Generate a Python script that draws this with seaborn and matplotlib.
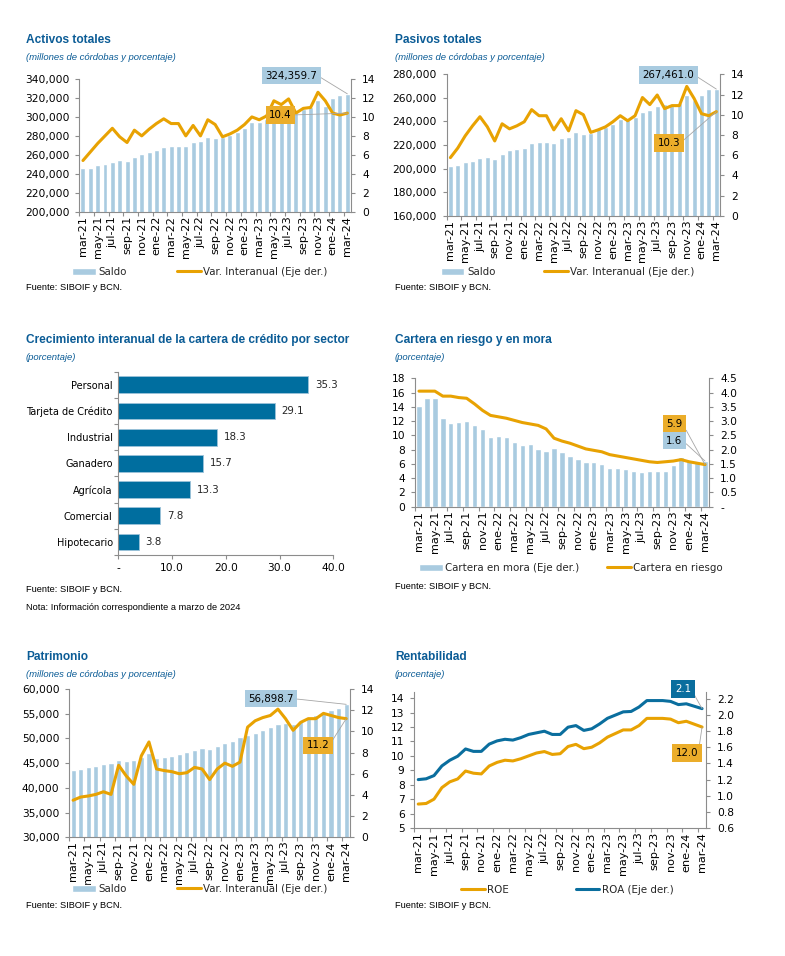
import numpy as np
import matplotlib
matplotlib.use("Agg")
import matplotlib.pyplot as plt
from matplotlib.patches import Patch
from matplotlib.lines import Line2D
from matplotlib.ticker import FuncFormatter, MultipleLocator
import seaborn as sns

# data
meses = ["mar-21", "abr-21", "may-21", "jun-21", "jul-21", "ago-21", "sep-21", "oct-21",
         "nov-21", "dic-21", "ene-22", "feb-22", "mar-22", "abr-22", "may-22", "jun-22",
         "jul-22", "ago-22", "sep-22", "oct-22", "nov-22", "dic-22", "ene-23", "feb-23",
         "mar-23", "abr-23", "may-23", "jun-23", "jul-23", "ago-23", "sep-23", "oct-23",
         "nov-23", "dic-23", "ene-24", "feb-24", "mar-24"]

activos_saldo = [246200, 246200, 249000, 250100, 252900, 255000, 253900, 257900, 261100, 263200,
                 265400, 267800, 268900, 268900, 268900, 273200, 274200, 278800, 277800, 278500,
                 280600, 284500, 288500, 295000, 295000, 297500, 299500, 301500, 302000, 304500,
                 308500, 310000, 317400, 311500, 319500, 323200, 324359.7]
activos_var = [5.4, 6.3, 7.2, 8.0, 8.8, 7.9, 7.3, 8.6, 8.0, 8.7, 9.3, 9.8, 9.3, 9.3, 8.0, 9.1,
               8.0, 9.7, 9.2, 7.9, 8.2, 8.6, 9.2, 10.0, 9.7, 10.1, 11.7, 11.3, 11.9, 10.4, 10.9,
               11.0, 12.6, 11.7, 10.4, 10.2, 10.4]

pasivos_saldo = [202000, 202700, 205300, 206000, 209000, 209800, 208000, 212400, 215500, 216300,
                 217700, 221700, 222500, 222500, 221700, 225700, 226500, 231300, 229600, 230500,
                 233300, 235600, 238000, 242000, 241200, 244000, 247700, 249700, 253400, 254800,
                 254800, 256000, 262700, 258000, 262700, 267400, 267461.0]
pasivos_var = [5.75, 6.7, 7.9, 8.9, 9.8, 8.8, 7.4, 9.1, 8.6, 8.9, 9.3, 10.5, 9.9, 9.9, 8.5, 9.6,
               8.4, 10.4, 10.0, 8.25, 8.5, 8.8, 9.3, 9.9, 9.4, 9.9, 11.7, 11.0, 11.95, 10.6, 10.9,
               10.9, 12.8, 11.6, 10.1, 9.9, 10.3]

sectores = ["Personal", "Tarjeta de Crédito", "Industrial", "Ganadero", "Agrícola",
            "Comercial", "Hipotecario"]
crecimiento = [35.3, 29.1, 18.3, 15.7, 13.3, 7.8, 3.8]

cartera_riesgo = [16.2, 16.2, 16.2, 15.5, 15.5, 15.3, 15.2, 14.4, 13.5, 12.8, 12.6, 12.4, 12.1,
                  11.8, 11.6, 11.4, 10.9, 9.6, 9.2, 8.9, 8.5, 8.1, 7.9, 7.7, 7.3, 7.1, 6.9, 6.7,
                  6.5, 6.3, 6.2, 6.3, 6.4, 6.6, 6.3, 6.1, 5.9]
cartera_mora = [3.53, 3.82, 3.82, 3.1, 2.93, 2.96, 3.02, 2.86, 2.73, 2.43, 2.47, 2.43, 2.28, 2.15,
                2.19, 2.01, 1.94, 2.04, 1.91, 1.79, 1.68, 1.55, 1.55, 1.48, 1.35, 1.35, 1.32,
                1.26, 1.23, 1.26, 1.26, 1.26, 1.45, 1.75, 1.59, 1.57, 1.6]

patrimonio_saldo = [43600, 43800, 44200, 44500, 44900, 45100, 45700, 45500, 45700, 46300, 47000,
                    46100, 46300, 46400, 46800, 47200, 47700, 48000, 47950, 48400, 49000, 49500,
                    50300, 50700, 51200, 51800, 52400, 52900, 53100, 52900, 53600, 54200, 54800,
                    55200, 55800, 56200, 56898.7]
patrimonio_var = [3.5, 3.8, 3.9, 4.05, 4.3, 4.05, 6.8, 5.8, 5.0, 7.7, 9.0, 6.45, 6.3, 6.2, 6.0,
                  6.1, 6.6, 6.45, 5.45, 6.45, 7.0, 6.7, 7.1, 10.4, 11.0, 11.3, 11.5, 12.1, 11.2,
                  10.1, 10.85, 11.2, 11.2, 11.7, 11.5, 11.3, 11.2]

roe = [6.66, 6.7, 7.0, 7.8, 8.2, 8.4, 8.95, 8.8, 8.75, 9.3, 9.55, 9.7, 9.65, 9.8, 10.0, 10.2,
       10.3, 10.1, 10.15, 10.65, 10.8, 10.5, 10.6, 10.9, 11.3, 11.55, 11.8, 11.8, 12.1, 12.6,
       12.6, 12.6, 12.55, 12.3, 12.4, 12.2, 12.0]
roa = [1.2, 1.21, 1.25, 1.37, 1.44, 1.49, 1.58, 1.55, 1.55, 1.64, 1.68, 1.70, 1.69, 1.72, 1.76,
       1.78, 1.80, 1.76, 1.76, 1.85, 1.87, 1.81, 1.83, 1.89, 1.96, 2.0, 2.04, 2.045, 2.1, 2.18,
       2.18, 2.18, 2.17, 2.13, 2.14, 2.11, 2.08]

# colours and fonts
BLUE_TXT = "#0B5C96"
LIGHT = "#A9CBE0"
ORANGE = "#E8A202"
BOX_OR = "#EBAD2A"
DARK = "#0A6E9E"
SPINE = "#8C8C8C"
NUM = "DejaVu Sans"
TXT = "Liberation Sans"
FS = 7.4
FS_Y = 7.7
FS_MES = 8.1

sns.set_theme(style="white")
plt.rcParams["font.family"] = [NUM]
plt.rcParams["axes.edgecolor"] = SPINE
plt.rcParams["axes.linewidth"] = 0.8
plt.rcParams["xtick.color"] = SPINE
plt.rcParams["ytick.color"] = SPINE
plt.rcParams["xtick.labelcolor"] = "black"
plt.rcParams["ytick.labelcolor"] = "black"

W, H = 785, 956
fig = plt.figure(figsize=(W / 100, H / 100), dpi=100)
fig.patch.set_facecolor("white")
x_pos = np.arange(len(meses))


# pixel helpers (origin top-left, like the reference)
def fx(x):
    return x / W


def fy(y):
    return 1 - y / H


def add_ax(x0, y0, x1, y1):
    return fig.add_axes([fx(x0), fy(y1), (x1 - x0) / W, (y1 - y0) / H])


def titles(x, y, title, subtitle):
    fig.text(fx(x), fy(y), title, fontsize=8.6, fontweight="bold", color=BLUE_TXT,
             family=TXT, va="center")
    fig.text(fx(x), fy(y + 17.5), subtitle, fontsize=6.8, style="italic", color=BLUE_TXT,
             family=TXT, va="center")


def note(x, y, text):
    fig.text(fx(x), fy(y), text, fontsize=6.7, family=TXT, color="black", va="center")


def legend_item(handle, label, x, y):
    fig.legend(handles=[handle], labels=[label], loc="center left",
               bbox_to_anchor=(fx(x), fy(y)), frameon=False, borderpad=0, borderaxespad=0,
               handlelength=2.3, handletextpad=0.25, prop=dict(family=NUM, size=FS))


def callout(ax, text, xy, coords, center, fc, tc="black"):
    ax.annotate(text, xy=xy, xycoords=coords, xytext=(fx(center[0]), fy(center[1])),
                textcoords="figure fraction", ha="center", va="center", fontsize=FS,
                family=NUM, color=tc, zorder=10, annotation_clip=False,
                bbox=dict(boxstyle="square,pad=0.35", fc=fc, ec="none"),
                arrowprops=dict(arrowstyle="-", color="#A6A6A6", lw=0.6,
                                shrinkA=0, shrinkB=0, relpos=(1, 0.5)))


def month_axis(ax):
    ax.set_xlim(-0.5, len(meses) - 0.5)
    ax.set_xticks(x_pos[::2])
    ax.set_xticklabels(meses[::2], rotation=90, fontsize=FS_MES, family=NUM)
    ax.set_xticks(np.arange(-0.5, len(meses), 2), minor=True)
    ax.tick_params(axis="x", which="major", length=0, pad=3)
    ax.tick_params(axis="x", which="minor", length=3, width=0.8, color=SPINE, bottom=True)
    ax.set_xlabel("")


def left_axis(ax, lo, hi, step, fmt):
    ax.set_ylim(lo, hi)
    ax.yaxis.set_major_locator(MultipleLocator(step))
    ax.yaxis.set_major_formatter(FuncFormatter(fmt))
    ax.tick_params(axis="y", which="major", left=True, length=3, width=0.8, pad=4,
                   labelsize=FS_Y)
    ax.set_ylabel("")
    for s in ["top", "right"]:
        ax.spines[s].set_visible(False)


def right_axis(ax2, lo, hi, step, fmt):
    ax2.set_ylim(lo, hi)
    ax2.yaxis.set_major_locator(MultipleLocator(step))
    ax2.yaxis.set_major_formatter(FuncFormatter(fmt))
    ax2.tick_params(axis="y", which="major", right=True, length=3, width=0.8, pad=5,
                    labelsize=FS_Y)
    ax2.set_ylabel("")
    for s in ["top", "left", "bottom"]:
        ax2.spines[s].set_visible(False)
    ax2.grid(False)


thousands = lambda v, p: f"{v:,.0f}"
integer = lambda v, p: f"{v:.0f}"
one_dec = lambda v, p: "-" if abs(v) < 1e-9 else f"{v:.1f}"


def saldo_panel(rect, saldo, var, lo, hi, step, saldo_box, var_box):
    ax = add_ax(*rect)
    sns.barplot(x=meses, y=saldo, color=LIGHT, width=0.68, saturation=1, ax=ax)
    ax2 = ax.twinx()
    sns.lineplot(x=x_pos, y=var, color=ORANGE, lw=2.2, ax=ax2)
    left_axis(ax, lo, hi, step, thousands)
    right_axis(ax2, 0, 14, 2, integer)
    month_axis(ax)
    ax2.set_xlim(-0.5, len(meses) - 0.5)
    callout(ax2, f"{saldo[-1]:,.1f}", (x_pos[-1], saldo[-1]), ax.transData, saldo_box, LIGHT)
    callout(ax2, f"{var[-1]:.1f}", (x_pos[-1], var[-1]), "data", var_box, BOX_OR)
    return ax, ax2


# --- Activos totales
titles(26, 40, "Activos totales", "(millones de córdobas y porcentaje)")
saldo_panel((79.3, 79, 351, 211.7), activos_saldo, activos_var, 200000, 340000, 20000,
            (291.5, 75.5), (280.5, 115))
legend_item(Patch(fc=LIGHT), "Saldo", 72, 272)
legend_item(Line2D([], [], color=ORANGE, lw=2.2), "Var. Interanual (Eje der.)", 177, 272)
note(26, 288, "Fuente: SIBOIF y BCN.")

# --- Pasivos totales
titles(395, 40, "Pasivos totales", "(millones de córdobas y porcentaje)")
saldo_panel((446.7, 74.3, 720, 215.7), pasivos_saldo, pasivos_var, 160000, 280000, 20000,
            (668.5, 75), (669, 143))
legend_item(Patch(fc=LIGHT), "Saldo", 440.7, 272)
legend_item(Line2D([], [], color=ORANGE, lw=2.2), "Var. Interanual (Eje der.)", 544, 272)
note(395, 288, "Fuente: SIBOIF y BCN.")

# --- Crecimiento de cartera por sector
titles(26, 340, "Crecimiento interanual de la cartera de crédito por sector", "(porcentaje)")
axc = add_ax(118.3, 371.7, 333.3, 555)
sns.barplot(x=crecimiento, y=sectores, orient="h", color="#006E9F", saturation=1,
            width=0.64, edgecolor="#9CC2D9", linewidth=0.6, ax=axc)
axc.bar_label(axc.containers[0], fmt="%.1f", padding=5, fontsize=FS, family=NUM)
axc.set_xlim(0, 40)
axc.xaxis.set_major_locator(MultipleLocator(10))
axc.xaxis.set_major_formatter(FuncFormatter(one_dec))
axc.tick_params(axis="x", bottom=True, length=3, width=0.8, labelsize=FS_Y, pad=3)
axc.tick_params(axis="y", which="major", length=0, labelsize=7.0, pad=4)
axc.set_yticks(np.arange(-0.5, len(sectores), 1), minor=True)
axc.tick_params(axis="y", which="minor", left=True, length=3, width=0.8, color=SPINE)
axc.set_ylim(len(sectores) - 0.5, -0.5)
axc.set_xlabel("")
axc.set_ylabel("")
for s in ["top", "right"]:
    axc.spines[s].set_visible(False)
note(26, 590, "Fuente: SIBOIF y BCN.")
note(26, 607.7, "Nota: Información correspondiente a marzo de 2024")

# --- Cartera en riesgo y en mora
titles(395, 340, "Cartera en riesgo y en mora", "(porcentaje)")
axr = add_ax(415, 378.3, 709, 506.7)
axr2 = axr.twinx()
sns.barplot(x=meses, y=cartera_mora, color=LIGHT, width=0.68, saturation=1, ax=axr2)
sns.lineplot(x=x_pos, y=cartera_riesgo, color=ORANGE, lw=2.2, ax=axr)
axr.set_zorder(axr2.get_zorder() + 1)
axr.patch.set_visible(False)
left_axis(axr, 0, 18, 2, integer)
right_axis(axr2, 0, 4.5, 0.5, one_dec)
month_axis(axr)
axr2.set_xlim(-0.5, len(meses) - 0.5)
axr2.tick_params(axis="x", which="both", length=0, labelbottom=False)
callout(axr, f"{cartera_riesgo[-1]:.1f}", (x_pos[-1], cartera_riesgo[-1]), "data",
        (674.5, 423.7), BOX_OR)
callout(axr, f"{cartera_mora[-1]:.1f}", (x_pos[-1], cartera_mora[-1]), axr2.transData,
        (674.5, 440.5), LIGHT)
legend_item(Patch(fc=LIGHT), "Cartera en mora (Eje der.)", 419, 567.7)
legend_item(Line2D([], [], color=ORANGE, lw=2.2), "Cartera en riesgo", 607, 567.7)
note(395, 586.7, "Fuente: SIBOIF y BCN.")

# --- Patrimonio
titles(26, 656.7, "Patrimonio", "(millones de córdobas y porcentaje)")
saldo_panel((69.3, 689, 350, 837.3), patrimonio_saldo, patrimonio_var, 30000, 60000, 5000,
            (271, 698.7), (318, 745.3))
legend_item(Patch(fc=LIGHT), "Saldo", 72, 889)
legend_item(Line2D([], [], color=ORANGE, lw=2.2), "Var. Interanual (Eje der.)", 177, 889)
note(26, 905, "Fuente: SIBOIF y BCN.")

# --- Rentabilidad
titles(395, 656.7, "Rentabilidad", "(porcentaje)")
axe = add_ax(414.3, 691.7, 706, 828)
sns.lineplot(x=x_pos, y=roe, color=ORANGE, lw=2.2, ax=axe)
axe2 = axe.twinx()
sns.lineplot(x=x_pos, y=roa, color=DARK, lw=2.2, ax=axe2)
left_axis(axe, 5, 14.45, 1, integer)
right_axis(axe2, 0.6, 2.29, 0.2, one_dec)
month_axis(axe)
axe2.set_xlim(-0.5, len(meses) - 0.5)
callout(axe2, f"{roa[-1]:.1f}", (x_pos[-1], roa[-1]), "data", (683, 689), DARK, tc="white")
callout(axe2, f"{roe[-1]:.1f}", (x_pos[-1], roe[-1]), axe.transData, (687, 753), BOX_OR)
legend_item(Line2D([], [], color=ORANGE, lw=2.2), "ROE", 461, 890)
legend_item(Line2D([], [], color=DARK, lw=2.2), "ROA (Eje der.)", 575.7, 890)
note(395, 905, "Fuente: SIBOIF y BCN.")

fig.savefig("out.png", dpi=100, facecolor="white")
